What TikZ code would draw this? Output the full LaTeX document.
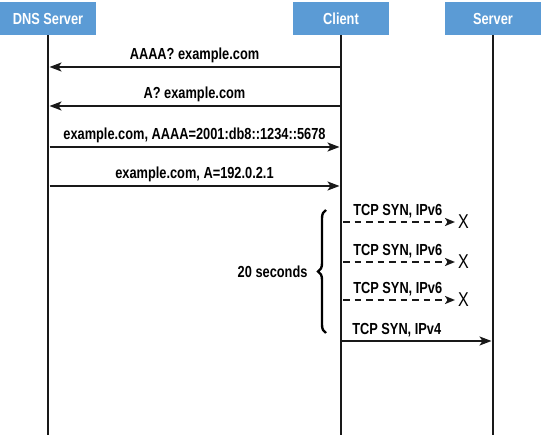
\documentclass[tikz,border=0pt]{standalone}
\usepackage{fontspec}
\setmainfont{Liberation Sans}[FakeStretch=0.8]
\usetikzlibrary{arrows.meta,decorations.pathreplacing}

\definecolor{headblue}{RGB}{91,155,213}

\begin{document}
\begin{tikzpicture}[x=1pt,y=-1pt,
  font=\fontsize{16}{18}\selectfont\bfseries,
  head/.style={fill=headblue,text=white,minimum width=96pt,minimum height=33pt,inner sep=0pt},
  life/.style={line width=2.6pt,draw=black!90},
  msg/.style={line width=1.9pt,draw=black!90,-{Stealth[length=12pt,width=9pt,inset=3pt]}},
  probe/.style={msg,dash pattern=on 6.5pt off 5pt,-{Stealth[length=10pt,width=8pt,inset=2.5pt]}}]
  \useasboundingbox (0,0) rectangle (541,435);

  % participants
  \node[head] (dns) at (48,18.5) {DNS Server};
  \node[head] (client) at (341,18.5) {Client};
  \node[head] (server) at (493,18.5) {Server};

  \coordinate (dnsEnd) at (48,435);
  \coordinate (clientEnd) at (341,435);
  \coordinate (serverEnd) at (493,435);
  \draw[life] (dns.south) -- (dnsEnd);
  \draw[life] (client.south) -- (clientEnd);
  \draw[life] (server.south) -- (serverEnd);

  % points on the lifelines
  \foreach \y/\n in {67/q1,106/q2,147/r1,186/r2} {
    \coordinate (d\n) at (49.5,\y);
    \coordinate (c\n) at (339.5,\y);
  }
  \foreach \y/\n in {222/t1,262/t2,300/t3} {
    \coordinate (c\n) at (343,\y);
    \coordinate (x\n) at (455,\y);
    \node[font=\fontsize{20}{20}\selectfont] (lost\n) at (463.5,\y) {X};
  }
  \coordinate (ct4) at (342,341);
  \coordinate (st4) at (491.5,341);

  % DNS lookup
  \draw[msg] (cq1) -- node[above=0pt] {AAAA? example.com} (dq1);
  \draw[msg] (cq2) -- node[above=0pt] {A? example.com} (dq2);
  \draw[msg] (dr1) -- node[above=0pt] {example.com, AAAA=2001:db8::1234::5678} (cr1);
  \draw[msg] (dr2) -- node[above=0pt] {example.com, A=192.0.2.1} (cr2);

  % connection attempts
  \draw[probe] (ct1) -- node[pos=0,anchor=south west,xshift=6pt] {TCP SYN, IPv6} (xt1);
  \draw[probe] (ct2) -- node[pos=0,anchor=south west,xshift=6pt] {TCP SYN, IPv6} (xt2);
  \draw[probe] (ct3) -- node[pos=0,anchor=south west,xshift=6pt] {TCP SYN, IPv6} (xt3);
  \draw[msg] (ct4) -- node[pos=0,anchor=south west,xshift=6pt] {TCP SYN, IPv4} (st4);

  % timeout
  \coordinate (braceLow) at (326,333);
  \coordinate (braceHigh) at (326,210);
  \draw[line width=2.4pt,decorate,decoration={brace,amplitude=8pt}] (braceLow) -- (braceHigh);
  \node[anchor=east] (wait) at (311,272) {20 seconds};
\end{tikzpicture}
\end{document}
